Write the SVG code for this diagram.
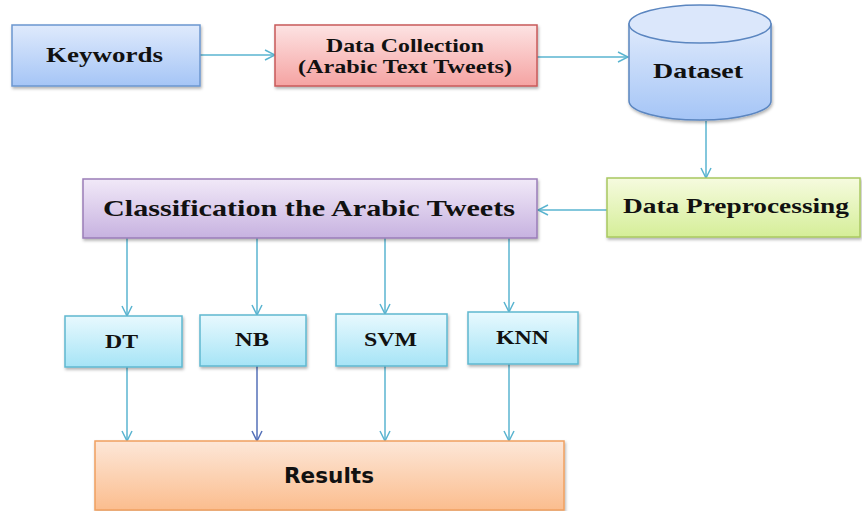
<svg xmlns="http://www.w3.org/2000/svg" width="862" height="511" viewBox="0 0 862 511">
<style>
.t{font-family:"Liberation Serif","Times New Roman",serif;font-weight:bold;fill:#111;text-anchor:start}
.r{font-family:"DejaVu Sans",Verdana,sans-serif;font-weight:bold;fill:#111}
.c{fill:none;stroke:#5ab4d0;stroke-width:1.5;marker-end:url(#ah)}
.box{filter:url(#sh);stroke-width:1.5}
</style>
<defs>
<marker id="ah" viewBox="0 0 12 12" refX="11" refY="6" markerWidth="12" markerHeight="12" markerUnits="userSpaceOnUse" orient="auto">
<path d="M1,1 L11,6 L1,11" fill="none" stroke="#5ab4d0" stroke-width="1.5"/>
</marker>
<marker id="ah2" viewBox="0 0 12 12" refX="11" refY="6" markerWidth="12" markerHeight="12" markerUnits="userSpaceOnUse" orient="auto">
<path d="M1,1 L11,6 L1,11" fill="none" stroke="#5470b8" stroke-width="1.5"/>
</marker>
<filter id="sh" x="-10%" y="-10%" width="120%" height="130%">
<feDropShadow dx="1" dy="2" stdDeviation="1.5" flood-color="#000" flood-opacity="0.3"/>
</filter>
<linearGradient id="gBlue" x1="0" y1="0" x2="0" y2="1"><stop offset="0" stop-color="#dfeafc"/><stop offset="1" stop-color="#a5c5f6"/></linearGradient>
<linearGradient id="gRed" x1="0" y1="0" x2="0" y2="1"><stop offset="0" stop-color="#fde3e3"/><stop offset="1" stop-color="#f5a3a2"/></linearGradient>
<linearGradient id="gGreen" x1="0" y1="0" x2="0" y2="1"><stop offset="0" stop-color="#f6fbdf"/><stop offset="1" stop-color="#d5ee98"/></linearGradient>
<linearGradient id="gPurple" x1="0" y1="0" x2="0" y2="1"><stop offset="0" stop-color="#f1e9f8"/><stop offset="1" stop-color="#c7b2e0"/></linearGradient>
<linearGradient id="gCyan" x1="0" y1="0" x2="0" y2="1"><stop offset="0" stop-color="#e8f9fe"/><stop offset="1" stop-color="#a6e4f6"/></linearGradient>
<linearGradient id="gOrange" x1="0" y1="0" x2="0" y2="1"><stop offset="0" stop-color="#fde7d8"/><stop offset="1" stop-color="#fbbd8e"/></linearGradient>
</defs>
<rect width="862" height="511" fill="#fff"/>

<g id="connectors">
<path class="c" d="M200,55 L275,55"/>
<path class="c" d="M537,57 L628,57"/>
<path class="c" d="M706,121 L706,178"/>
<path class="c" d="M607,210 L538,210"/>
<path class="c" d="M127,238 L127,316"/>
<path class="c" d="M257,238 L257,315"/>
<path class="c" d="M385,238 L385,314"/>
<path class="c" d="M509,238 L509,312"/>
<path class="c" d="M127,367 L127,441"/>
<path d="M257,366 L257,441" fill="none" stroke="#5470b8" stroke-width="1.5" marker-end="url(#ah2)"/>
<path class="c" d="M385,366 L385,441"/>
<path class="c" d="M509,364 L509,441"/>
</g>

<g id="keywords">
<rect class="box" x="12" y="25" width="188" height="61" fill="url(#gBlue)" stroke="#6b96cf"/>
<text class="t" x="46" y="62" font-size="22" textLength="117" lengthAdjust="spacingAndGlyphs">Keywords</text>
</g>

<g id="data-collection">
<rect class="box" x="275" y="25" width="262" height="61" fill="url(#gRed)" stroke="#c85a5a"/>
<text class="t" x="326" y="52" font-size="19" textLength="158" lengthAdjust="spacingAndGlyphs">Data Collection</text>
<text class="t" x="298" y="73" font-size="19" textLength="214" lengthAdjust="spacingAndGlyphs">(Arabic Text Tweets)</text>
</g>

<g id="dataset">
<path class="box" d="M629,24 L629,101 A71,19 0 0 0 771,101 L771,24 Z" fill="url(#gBlue)" stroke="#5b86c0"/>
<ellipse cx="700" cy="24" rx="71" ry="19" fill="#dbe7fb" stroke="#5b86c0" stroke-width="1.5"/>
<text class="t" x="653" y="78" font-size="21" textLength="90" lengthAdjust="spacingAndGlyphs">Dataset</text>
</g>

<g id="data-preprocessing">
<rect class="box" x="607" y="178" width="253" height="59" fill="url(#gGreen)" stroke="#a8c860"/>
<text class="t" x="623" y="213" font-size="21" textLength="226" lengthAdjust="spacingAndGlyphs">Data Preprocessing</text>
</g>

<g id="classification">
<rect class="box" x="83" y="179" width="454" height="59" fill="url(#gPurple)" stroke="#9a7db8"/>
<text class="t" x="103" y="216" font-size="23" textLength="412" lengthAdjust="spacingAndGlyphs">Classification the Arabic Tweets</text>
</g>

<g id="dt">
<rect class="box" x="65" y="316" width="117" height="51" fill="url(#gCyan)" stroke="#5fb8d0"/>
<text class="t" x="105" y="348" font-size="19" textLength="33" lengthAdjust="spacingAndGlyphs">DT</text>
</g>

<g id="nb">
<rect class="box" x="200" y="315" width="106" height="51" fill="url(#gCyan)" stroke="#5fb8d0"/>
<text class="t" x="235" y="346" font-size="19" textLength="34" lengthAdjust="spacingAndGlyphs">NB</text>
</g>

<g id="svm">
<rect class="box" x="336" y="314" width="111" height="52" fill="url(#gCyan)" stroke="#5fb8d0"/>
<text class="t" x="364" y="346" font-size="19" textLength="53" lengthAdjust="spacingAndGlyphs">SVM</text>
</g>

<g id="knn">
<rect class="box" x="468" y="312" width="110" height="52" fill="url(#gCyan)" stroke="#5fb8d0"/>
<text class="t" x="496" y="344" font-size="19" textLength="53" lengthAdjust="spacingAndGlyphs">KNN</text>
</g>

<g id="results">
<rect class="box" x="95" y="441" width="469" height="69" fill="url(#gOrange)" stroke="#f0a060"/>
<text class="r" x="284" y="483" font-size="21" textLength="90" lengthAdjust="spacingAndGlyphs">Results</text>
</g>
</svg>
